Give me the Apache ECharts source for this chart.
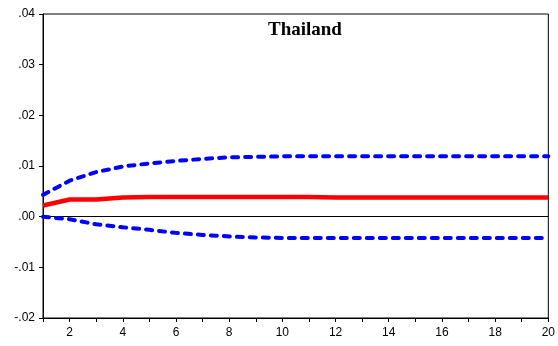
<!DOCTYPE html>
<html><head><meta charset="utf-8">
<script src="https://cdn.jsdelivr.net/npm/echarts@6/dist/echarts.min.js"></script>
<style>html,body{margin:0;padding:0;background:#fff}#c{width:558px;height:346px}</style>
</head><body><div id="c"></div>
<script>
const periods = [1,2,3,4,5,6,7,8,9,10,11,12,13,14,15,16,17,18,19,20];
const response = [0.0022,0.0034,0.0034,0.0038,0.0039,0.0039,0.0039,0.0039,0.0039,0.0039,0.0039,0.0038,0.0038,0.0038,0.0038,0.0038,0.0038,0.0038,0.0038,0.0038];
const upperBand = [0.0043,0.0071,0.0088,0.0099,0.0105,0.0110,0.0114,0.0117,0.0118,0.0119,0.0119,0.0119,0.0119,0.0119,0.0119,0.0119,0.0119,0.0119,0.0119,0.0119];
const lowerBand = [0.0000,-0.0005,-0.0015,-0.0021,-0.0026,-0.0032,-0.0036,-0.0039,-0.0041,-0.0042,-0.0042,-0.0042,-0.0042,-0.0042,-0.0042,-0.0042,-0.0042,-0.0042,-0.0042,-0.0042];
const xTickLabels = ['2','4','6','8','10','12','14','16','18','20'];
const title = 'Thailand';

const pairs = a => periods.map((p,i)=>[p,a[i]]);
const fmtY = v => {
  const r = Math.round(v*100)/100;
  const s = Math.abs(r).toFixed(2).replace(/^0/,'');
  return (r < 0 ? '-' : '') + s;
};
const chart = echarts.init(document.getElementById('c'), null, {renderer:'canvas'});
chart.setOption({
  animation:false,
  backgroundColor:'#fff',
  title:{text:title,left:263,top:16,
    textStyle:{fontFamily:'Liberation Serif',fontWeight:'bold',fontSize:19,color:'#000'}},
  grid:{left:43,right:6,top:14,bottom:28,show:true,borderColor:'#000',borderWidth:1,backgroundColor:'transparent'},
  xAxis:{type:'value',min:1,max:20,interval:1,
    axisLine:{onZero:false,lineStyle:{color:'#000',width:1}},
    axisTick:{show:true,length:4,lineStyle:{color:'#000'}},
    splitLine:{show:false},
    axisLabel:{color:'#000',fontFamily:'Liberation Sans',fontSize:12,margin:9,
      formatter:v=> xTickLabels.includes(String(v)) ? String(v) : ''}},
  yAxis:{type:'value',min:-0.02,max:0.04,interval:0.01,
    axisLine:{show:true,lineStyle:{color:'#000',width:1}},
    axisTick:{show:true,length:4,lineStyle:{color:'#000'}},
    splitLine:{show:false},
    axisLabel:{color:'#000',fontFamily:'Liberation Sans',fontSize:12,margin:8,formatter:fmtY}},
  series:[
    {type:'line',data:pairs(upperBand),showSymbol:false,symbol:'none',
      lineStyle:{color:'#0000ff',width:4,type:[6,7],cap:'round'},z:3},
    {type:'line',data:pairs(lowerBand),showSymbol:false,symbol:'none',
      lineStyle:{color:'#0000ff',width:4,type:[6,7],cap:'round'},z:3},
    {type:'line',data:pairs(response),showSymbol:false,symbol:'none',
      lineStyle:{color:'#ff0000',width:4.5},z:4,
      markLine:{silent:true,symbol:'none',label:{show:false},
        lineStyle:{color:'#000',width:1,type:'solid'},data:[{yAxis:0}],z:1}}
  ]
});
</script></body></html>
